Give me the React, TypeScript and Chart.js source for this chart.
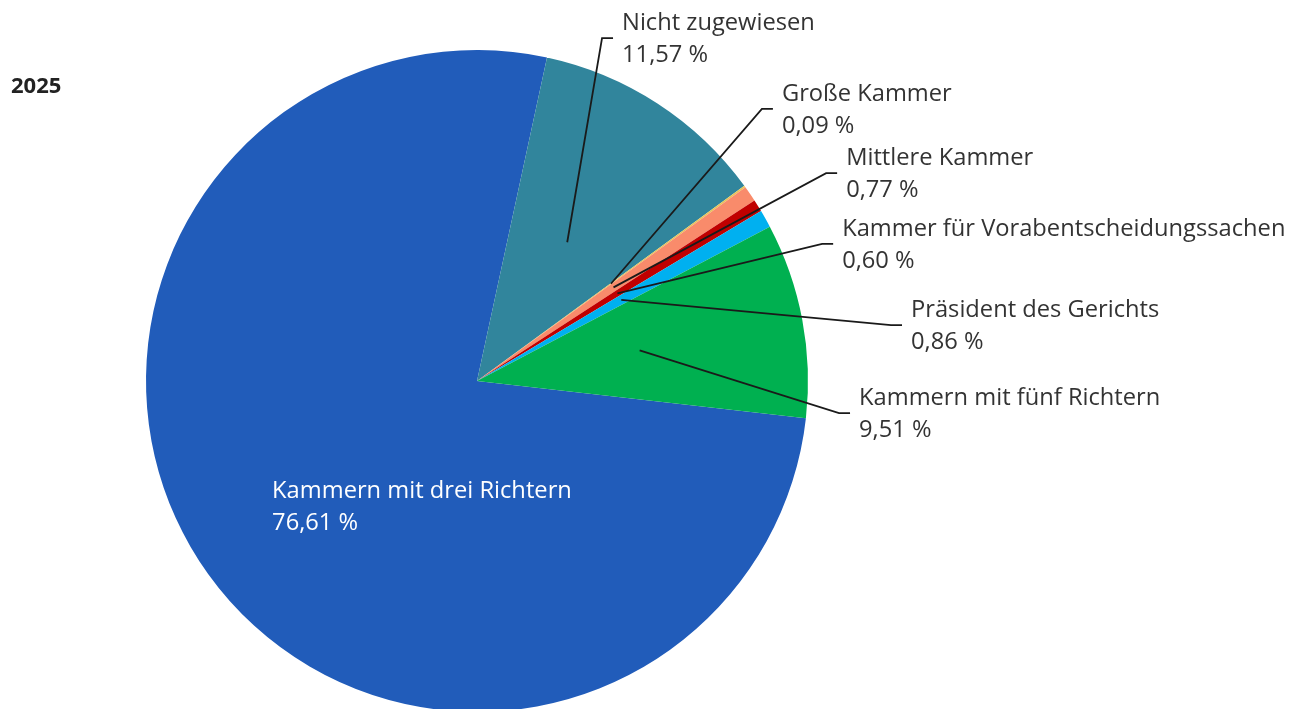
import React, { useEffect, useRef } from "react";
import { Chart, registerables } from "chart.js";

Chart.register(...registerables);

const title = "2025";
const categories = [
  "Kammern mit drei Richtern",
  "Nicht zugewiesen",
  "Große Kammer",
  "Mittlere Kammer",
  "Kammer für Vorabentscheidungssachen",
  "Präsident des Gerichts",
  "Kammern mit fünf Richtern",
];
const values = [76.61, 11.57, 0.09, 0.77, 0.6, 0.86, 9.51];
const valueLabels = ["76,61 %", "11,57 %", "0,09 %", "0,77 %", "0,60 %", "0,86 %", "9,51 %"];

const colors = ["#215CBA", "#31859C", "#E8C45A", "#F98B6B", "#C00000", "#00B0F0", "#00B050"];

// label layout, relative to pie centre in units of radius (end of connector)
const labelLayout: { inside: boolean; dx: number; dy: number }[] = [
  { inside: true, dx: -0.619, dy: 0.378 },
  { inside: false, dx: 0.411, dy: -1.036 },
  { inside: false, dx: 0.894, dy: -0.822 },
  { inside: false, dx: 1.088, dy: -0.628 },
  { inside: false, dx: 1.076, dy: -0.414 },
  { inside: false, dx: 1.284, dy: -0.169 },
  { inside: false, dx: 1.127, dy: 0.097 },
];

const FONT = '"Open Sans", "Noto Sans", sans-serif';

const labelPlugin = {
  id: "pieLabels",
  afterDraw(chart: any) {
    const ctx = chart.ctx as CanvasRenderingContext2D;
    const meta = chart.getDatasetMeta(0);
    ctx.save();
    // title
    ctx.font = `bold 22px ${FONT}`;
    ctx.fillStyle = "#222222";
    ctx.textAlign = "left";
    ctx.textBaseline = "middle";
    ctx.fillText(title, 11, 87);

    meta.data.forEach((arc: any, i: number) => {
      const cx = arc.x;
      const cy = arc.y;
      const R = arc.outerRadius;
      const mid = (arc.startAngle + arc.endAngle) / 2;
      const lay = labelLayout[i];
      const ex = cx + lay.dx * R;
      const ey = cy + lay.dy * R;
      ctx.font = `23.7px ${FONT}`;
      ctx.textAlign = "left";
      ctx.textBaseline = "middle";
      if (lay.inside) {
        ctx.fillStyle = "#ffffff";
        ctx.fillText(categories[i], ex, ey - 15);
        ctx.fillText(valueLabels[i], ex, ey + 17);
        return;
      }
      const px = cx + 0.5 * R * Math.cos(mid);
      const py = cy + 0.5 * R * Math.sin(mid);
      ctx.strokeStyle = "#1a1a1a";
      ctx.lineWidth = 1.8;
      ctx.beginPath();
      ctx.moveTo(px, py);
      ctx.lineTo(ex - 11, ey);
      ctx.lineTo(ex, ey);
      ctx.stroke();
      ctx.fillStyle = "#333333";
      ctx.fillText(categories[i], ex + 9, ey - 15);
      ctx.fillText(valueLabels[i], ex + 9, ey + 17);
    });
    ctx.restore();
  },
};

export default function App() {
  const ref = useRef<HTMLCanvasElement | null>(null);
  useEffect(() => {
    if (!ref.current) return;
    const chart = new Chart(ref.current, {
      type: "pie",
      data: {
        labels: categories,
        datasets: [
          {
            data: values,
            backgroundColor: colors,
            borderWidth: 0,
          },
        ],
      },
      options: {
        responsive: false,
        animation: false,
        rotation: 96.44,
        layout: { padding: { left: 146, right: 498, top: 50, bottom: 50 } },
        plugins: {
          legend: { display: false },
          tooltip: { enabled: false },
          title: { display: false },
        },
      },
      plugins: [labelPlugin],
    });
    return () => chart.destroy();
  }, []);
  return (
    <div
      style={{
        position: "fixed",
        left: 0,
        top: 0,
        width: 1306,
        height: 709,
        overflow: "hidden",
        background: "#ffffff",
      }}
    >
      <canvas ref={ref} width={1306} height={762} style={{ display: "block" }} />
    </div>
  );
}
